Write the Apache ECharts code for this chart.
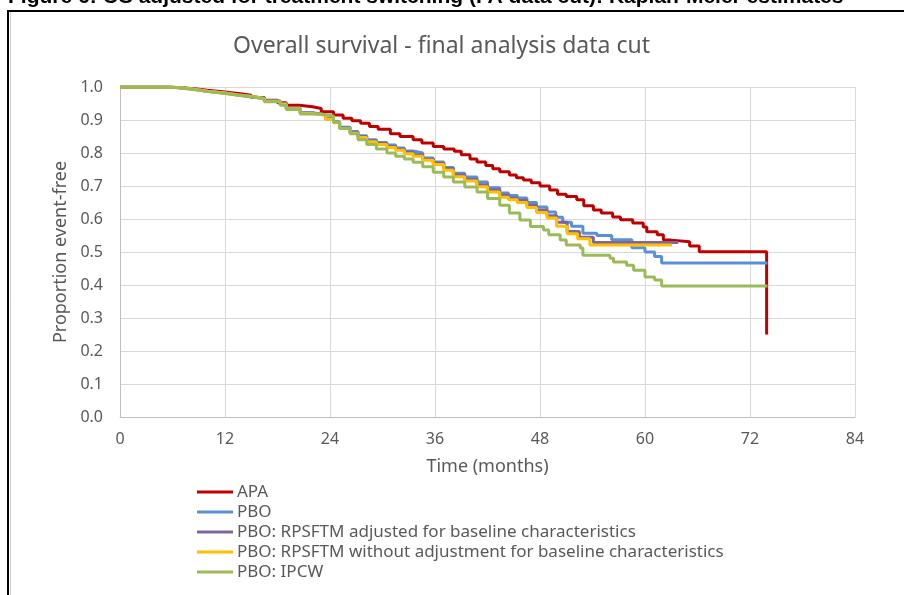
<!DOCTYPE html>
<html>
<head>
<meta charset="utf-8">
<script src="https://cdn.jsdelivr.net/npm/echarts@6/dist/echarts.min.js"></script>
<style>
html,body{margin:0;padding:0;background:#fff;}
#chart{width:904px;height:595px;}
</style>
</head>
<body>
<div id="chart"></div>
<script>
var seriesNames = ['APA', 'PBO', 'PBO: RPSFTM adjusted for baseline characteristics', 'PBO: RPSFTM without adjustment for baseline characteristics', 'PBO: IPCW'];
var xTicks = [0, 12, 24, 36, 48, 60, 72, 84];
var yTicks = [0.0, 0.1, 0.2, 0.3, 0.4, 0.5, 0.6, 0.7, 0.8, 0.9, 1.0];

var apa = [[0,1.0],[5.5,0.998],[7,0.995],[8.5,0.99],[10,0.985],[12,0.98],[13.5,0.975],[15,0.968],[16.5,0.96],[18,0.952],[19,0.945],[20.5,0.94],[22,0.935],[23,0.925],[24.4,0.915],[25.5,0.905],[26.5,0.898],[27.5,0.89],[28.5,0.88],[29.5,0.872],[30.9,0.858],[32,0.85],[33.5,0.84],[34.5,0.83],[35.8,0.82],[37,0.812],[38.2,0.805],[39,0.795],[40,0.782],[40.8,0.773],[41.8,0.762],[42.6,0.752],[43.4,0.743],[44.5,0.733],[45.3,0.725],[46.1,0.718],[47,0.71],[48,0.7],[49.1,0.688],[50,0.675],[51,0.668],[52.2,0.658],[53,0.64],[54.1,0.627],[55,0.618],[56.3,0.606],[57.2,0.598],[58.6,0.588],[59.8,0.576],[60.2,0.561],[61.4,0.552],[62.1,0.536],[63,0.531],[65.1,0.518],[66.2,0.501],[73.9,0.25]];
var pbo = [[0,1.0],[5.5,0.998],[7,0.993],[8.5,0.987],[10,0.982],[12,0.976],[13.5,0.972],[15,0.966],[16.5,0.958],[18.3,0.95],[19,0.936],[20.6,0.922],[22,0.916],[23.5,0.905],[24.4,0.895],[25.1,0.878],[26.3,0.865],[27.2,0.852],[28.2,0.84],[29.3,0.832],[30.5,0.824],[31.5,0.815],[32.5,0.806],[33.5,0.8],[34.6,0.785],[35.8,0.773],[37,0.756],[38.1,0.739],[39.4,0.727],[40.8,0.712],[42,0.695],[43.4,0.679],[44.4,0.671],[45.4,0.664],[46.5,0.65],[47.6,0.636],[48.8,0.621],[49.8,0.605],[50.6,0.59],[51.6,0.578],[52.9,0.557],[54.5,0.55],[56.2,0.537],[58.5,0.513],[60,0.5],[61.1,0.486],[61.9,0.467],[74,0.467]];
var rpsftmAdj = [[0,1.0],[5.5,0.998],[7,0.993],[8.5,0.987],[10,0.982],[12,0.976],[13.5,0.971],[15,0.965],[16.5,0.957],[18.3,0.949],[19,0.935],[20.6,0.921],[22,0.915],[23.5,0.903],[24.4,0.893],[25.1,0.876],[26.3,0.862],[27.2,0.849],[28.2,0.837],[29.3,0.829],[30.5,0.82],[31.5,0.811],[32.5,0.802],[33.5,0.795],[34.6,0.781],[35.8,0.769],[37,0.753],[38.1,0.733],[39.4,0.72],[40.8,0.704],[42,0.688],[43.4,0.672],[44.4,0.664],[45.4,0.656],[46.5,0.642],[47.6,0.627],[48.8,0.61],[49.9,0.59],[51.1,0.562],[52.5,0.545],[54.1,0.529],[63.8,0.529]];
var rpsftmNoAdj = [[0,1.0],[5.5,0.998],[7,0.993],[8.5,0.987],[10,0.982],[12,0.976],[13.5,0.971],[15,0.965],[16.5,0.957],[18.3,0.948],[19,0.934],[20.6,0.92],[22,0.914],[23.5,0.902],[24.4,0.892],[25.1,0.874],[26.3,0.86],[27.2,0.847],[28.2,0.834],[29.3,0.826],[30.5,0.817],[31.5,0.808],[32.5,0.798],[33.5,0.79],[34.6,0.778],[35.8,0.765],[37,0.748],[38.1,0.728],[39.4,0.715],[40.8,0.698],[42,0.682],[43.4,0.666],[44.4,0.658],[45.4,0.65],[46.5,0.635],[47.6,0.62],[48.8,0.603],[49.9,0.578],[51.1,0.555],[52.3,0.54],[53.7,0.521],[63.1,0.521]];
var ipcw = [[0,1.0],[5.5,0.997],[7,0.992],[8.5,0.986],[10,0.98],[12,0.975],[13.5,0.97],[15,0.964],[16.5,0.955],[18.3,0.945],[19,0.932],[20.6,0.918],[22.9,0.912],[24.4,0.893],[25.1,0.874],[26.3,0.858],[27.2,0.84],[28.2,0.826],[29.3,0.812],[30.5,0.8],[31.5,0.79],[32.5,0.782],[33.5,0.772],[34.6,0.758],[35.8,0.742],[37,0.727],[38.1,0.712],[39.4,0.697],[40.8,0.682],[42,0.662],[43.4,0.642],[44.5,0.618],[45.7,0.597],[46.9,0.577],[48.4,0.567],[49,0.552],[50.3,0.536],[51,0.521],[52.6,0.512],[52.9,0.49],[56,0.481],[56.4,0.47],[57.9,0.46],[58.7,0.445],[60,0.424],[61.1,0.415],[61.9,0.397],[74,0.397]];

var colors = ['#c00000', '#5b8fd6', '#8064a2', '#ffc000', '#9bbb59'];
var allData = [apa, pbo, rpsftmAdj, rpsftmNoAdj, ipcw];
var FONT = 'Noto Sans';
var TXT = '#595959';

var chart = echarts.init(document.getElementById('chart'), null, {renderer: 'canvas'});
chart.setOption({
  animation: false,
  backgroundColor: '#fff',
  textStyle: {fontFamily: FONT},
  title: {
    text: 'Overall survival - final analysis data cut',
    left: 228, top: 30,
    textStyle: {fontFamily: FONT, fontSize: 23, fontWeight: 'normal', color: TXT}
  },
  grid: {left: 120, right: 49, top: 87, bottom: 178, containLabel: false},
  xAxis: {
    type: 'value', min: 0, max: 84, interval: 12,
    name: 'Time (months)', nameLocation: 'middle', nameGap: 41,
    nameTextStyle: {fontFamily: FONT, fontSize: 18, color: TXT},
    axisLine: {show: true, lineStyle: {color: '#bfbfbf', width: 1}},
    axisTick: {show: false},
    axisLabel: {fontFamily: FONT, fontSize: 16, color: TXT, margin: 14,
      formatter: function (v) { return xTicks.indexOf(v) >= 0 ? String(v) : ''; }},
    splitLine: {show: true, lineStyle: {color: '#d9d9d9', width: 1}}
  },
  yAxis: {
    type: 'value', min: 0, max: 1, interval: 0.1,
    name: 'Proportion event-free', nameLocation: 'middle', nameGap: 43, nameRotate: 90,
    nameTextStyle: {fontFamily: FONT, fontSize: 18, color: TXT},
    axisLine: {show: true, lineStyle: {color: '#bfbfbf', width: 1}},
    axisTick: {show: false},
    axisLabel: {fontFamily: FONT, fontSize: 16, color: TXT, margin: 17,
      formatter: function (v) { return v.toFixed(1); }},
    splitLine: {show: true, lineStyle: {color: '#d9d9d9', width: 1}}
  },
  legend: {
    orient: 'vertical', left: 197, top: 482, padding: 0,
    icon: 'rect', itemWidth: 36, itemHeight: 3, itemGap: 0,
    textStyle: {fontFamily: FONT, fontSize: 17, color: TXT, lineHeight: 20, padding: [0, 0, 0, -1]},
    data: seriesNames
  },
  series: seriesNames.map(function (n, i) {
    return {
      name: n, type: 'line', step: 'end', data: allData[i],
      showSymbol: false, symbol: 'none', z: 2 + i,
      lineStyle: {color: colors[i], width: 3},
      itemStyle: {color: colors[i]}
    };
  }),
  graphic: [
    {type: 'text', left: 8, top: -13, z: 100,
      style: {text: 'Figure 6: OS adjusted for treatment switching (FA data cut): Kaplan-Meier estimates',
        font: 'bold 21px "Liberation Sans", Arial, sans-serif', fill: '#000'}},
    {type: 'line', z: 100, shape: {x1: 8, y1: 10, x2: 8, y2: 595}, style: {stroke: '#000', lineWidth: 2}},
    {type: 'line', z: 100, shape: {x1: 7, y1: 11, x2: 904, y2: 11}, style: {stroke: '#000', lineWidth: 2}},
    {type: 'line', z: 100, shape: {x1: 10.5, y1: 12, x2: 10.5, y2: 595}, style: {stroke: '#d0d0d0', lineWidth: 1}}
  ]
});
</script>
</body>
</html>
